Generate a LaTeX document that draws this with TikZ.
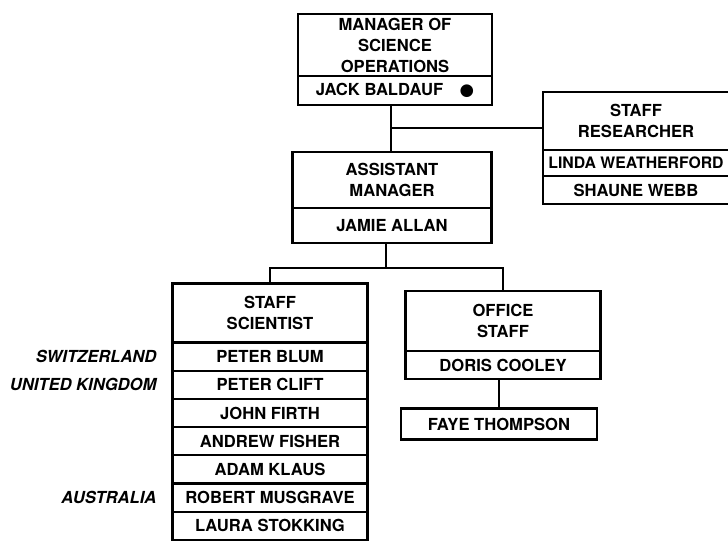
\documentclass[tikz,border=0pt]{standalone}
\usepackage{fontspec}
\setmainfont{TeX Gyre Heros}
\newfontfamily\symfont{DejaVu Sans}
\usetikzlibrary{positioning}
\begin{document}
\begin{tikzpicture}[x=1pt,y=-1pt,line width=2.1pt,
  box/.style={draw,inner sep=0pt,outer sep=0pt,align=center,font=\fontsize{16.6}{21}\selectfont\bfseries},
  country/.style={font=\fontsize{16.6}{21}\selectfont\bfseries\itshape,inner sep=0pt}]
\useasboundingbox (0,0) rectangle (728,542);

\node[box,minimum width=194pt,minimum height=62pt] (mgr) at (395,45) {MANAGER OF\\SCIENCE\\OPERATIONS};
\node[box,minimum width=194pt,minimum height=29pt,anchor=north] (jack) at (mgr.south) {JACK BALDAUF\quad{\symfont ●}};

\node[box,minimum width=186pt,minimum height=58pt] (res) at (636,121) {STAFF\\RESEARCHER};
\node[box,minimum width=186pt,minimum height=26pt,anchor=north,font=\fontsize{15.8}{21}\selectfont\bfseries] (linda) at (res.south) {LINDA WEATHERFORD};
\node[box,minimum width=186pt,minimum height=28pt,anchor=north] (shaune) at (linda.south) {SHAUNE WEBB};

\node[box,minimum width=199pt,minimum height=56pt] (asst) at (392,180) {ASSISTANT\\MANAGER};
\node[box,minimum width=199pt,minimum height=35pt,anchor=north] (jamie) at (asst.south) {JAMIE ALLAN};

\node[box,minimum width=195pt,minimum height=59pt] (sci) at (270,313) {STAFF\\SCIENTIST};
\node[box,minimum width=195pt,minimum height=28.2pt,anchor=north] (blum) at (sci.south) {PETER BLUM};
\node[box,minimum width=195pt,minimum height=28.2pt,anchor=north] (clift) at (blum.south) {PETER CLIFT};
\node[box,minimum width=195pt,minimum height=28.2pt,anchor=north] (firth) at (clift.south) {JOHN FIRTH};
\node[box,minimum width=195pt,minimum height=28.2pt,anchor=north] (fisher) at (firth.south) {ANDREW FISHER};
\node[box,minimum width=195pt,minimum height=28.2pt,anchor=north] (klaus) at (fisher.south) {ADAM KLAUS};
\node[box,minimum width=195pt,minimum height=28.2pt,anchor=north] (musgrave) at (klaus.south) {ROBERT MUSGRAVE};
\node[box,minimum width=195pt,minimum height=28.2pt,anchor=north] (stokking) at (musgrave.south) {LAURA STOKKING};

\node[country,left=15pt of blum] (ch) {SWITZERLAND};
\node[country,left=15pt of clift] (uk) {UNITED KINGDOM};
\node[country,left=15pt of musgrave] (au) {AUSTRALIA};

\node[box,minimum width=195pt,minimum height=60pt] (off) at (503,321) {OFFICE\\STAFF};
\node[box,minimum width=195pt,minimum height=28pt,anchor=north] (doris) at (off.south) {DORIS COOLEY};
\node[box,minimum width=196pt,minimum height=31pt] (faye) at (499,424) {FAYE THOMPSON};

\coordinate (j1) at (391,128);
\coordinate (j2) at (386,268);
\draw (jack.south -| j1) -- (asst.north -| j1);
\draw (j1) -- (j1 -| res.west);
\draw (jamie.south -| j2) -- (j2);
\draw (sci.north) |- (off.north |- j2) -- (off.north);
\draw (doris.south -| faye.north) -- (faye.north);
\end{tikzpicture}
\end{document}
